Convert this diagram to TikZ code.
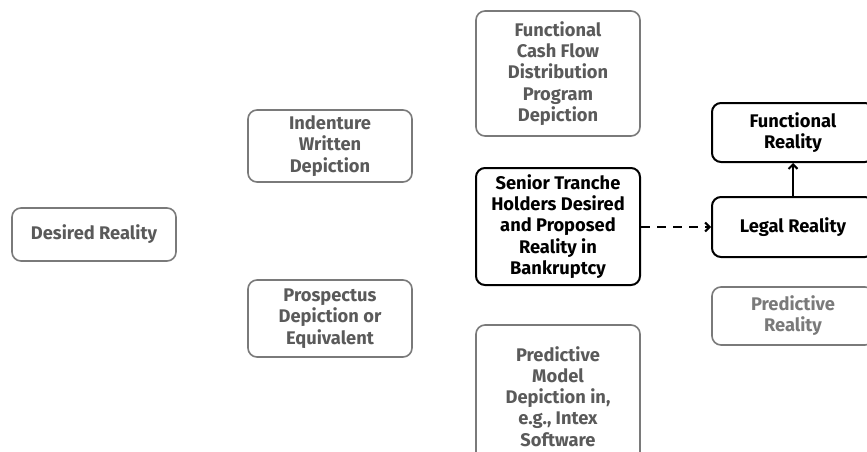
\documentclass[tikz,border=0pt]{standalone}
\usepackage{fontspec}
\setmainfont{Fira Sans}
\usetikzlibrary{arrows.meta}
\definecolor{boxgray}{HTML}{7A7A7A}
\definecolor{txtgray}{HTML}{5A5A5A}
\definecolor{lightgray}{HTML}{7A7A7A}
\tikzset{
  gbox/.style={draw=boxgray, line width=1.6pt, rounded corners=9pt, text=txtgray,
    font=\bfseries\fontsize{18.3}{21.2}\selectfont, align=center, inner sep=0pt,
    minimum width=164pt},
  kbox/.style={gbox, draw=black, text=black, line width=2pt},
  conn/.style={line width=2pt, -{Straight Barb[length=4.5pt,width=9pt]}},
}
\begin{document}
\begin{tikzpicture}[x=1pt,y=1pt]
\useasboundingbox (0,0) rectangle (867,451);
\clip (0,0) rectangle (867,451);
\fill[white] (0,0) rectangle (867,451);
\node[gbox, minimum height=53pt] (desired) at (94,216.5) {Desired Reality};
\node[gbox, minimum height=72pt] (indenture) at (330,305) {Indenture\\Written\\Depiction};
\node[gbox, minimum height=77pt] (prospectus) at (330,132.5) {Prospectus\\Depiction or\\Equivalent};
\node[gbox, minimum height=125pt] (fcf) at (558,377.5) {Functional\\Cash Flow\\Distribution\\Program\\Depiction};
\node[kbox, minimum height=117pt] (senior) at (558,224.5) {Senior Tranche\\Holders Desired\\and Proposed\\Reality in\\Bankruptcy};
\node[gbox, minimum height=143pt] (pmodel) at (558,54.5) {Predictive\\Model\\Depiction in,\\e.g., Intex\\Software};
\node[kbox, minimum width=162pt, minimum height=59pt] (freal) at (793,318.5) {Functional\\Reality};
\node[kbox, minimum width=162pt, minimum height=60pt] (legal) at (793,224) {Legal Reality};
\node[gbox, text=lightgray, minimum width=162pt, minimum height=58pt] (preal) at (793,135) {Predictive\\Reality};
\draw[conn, dashed, dash pattern=on 9pt off 7pt] (senior.east |- legal.west) -- (legal.west);
\draw[conn] (legal.north) -- (freal.south);
\end{tikzpicture}
\end{document}
